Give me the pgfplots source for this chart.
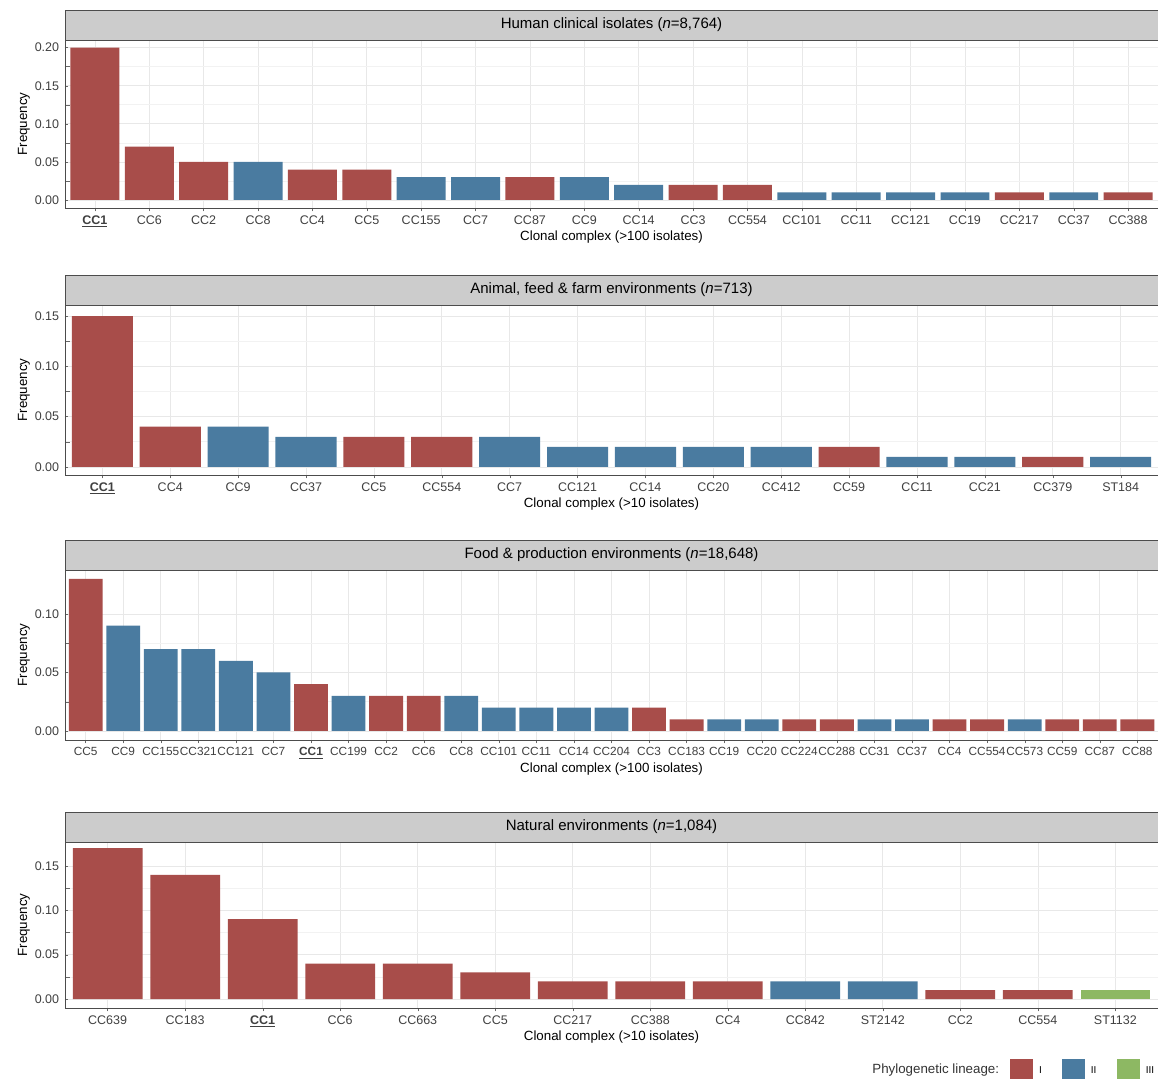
\documentclass[border=0pt]{standalone}
\usepackage{pgfplots}
\pgfplotsset{compat=1.18}
\usepackage{fontspec}
\setmainfont{Liberation Sans}
\definecolor{cI}{RGB}{168,77,74}
\definecolor{cII}{RGB}{74,123,160}
\definecolor{cIII}{RGB}{141,184,99}
\definecolor{stripc}{RGB}{204,204,204}
\pgfplotsset{panel/.style={
  scale only axis, anchor=south west, width=655.8pt,
  ybar, bar shift=0pt, bar width=0.9,
  axis line style={black!70}, axis background/.style={fill=white},
  tick style={black!60}, major tick length=2pt,
  ytick pos=left, xtick pos=bottom,
  ymajorgrids, xmajorgrids, yminorgrids, minor y tick num=1,
  major grid style={black!9}, minor grid style={black!5},
  every tick label/.append style={font=\fontsize{7.5}{9}\selectfont, text=black!75},
  /pgf/number format/assume math mode=true,
  yticklabel style={/pgf/number format/.cd,fixed,fixed zerofill,precision=2},
  ylabel={Frequency}, ylabel style={font=\fontsize{8}{9}\selectfont, yshift=-4pt},
  xlabel style={font=\fontsize{8}{9}\selectfont, yshift=5pt},
  xticklabel style={yshift=1pt},
  every axis plot/.append style={draw=none},
}}
\newcommand{\strip}[2]{\draw[black!70,fill=stripc] (#1.north west) rectangle ([yshift=18pt]#1.north east);
  \node[font=\fontsize{9}{10}\selectfont] at ([yshift=9pt]#1.north) {#2};}
\begin{document}
\begin{tikzpicture}
\useasboundingbox (0,0) rectangle (694.8pt,647.4pt);
% Panel 1
\begin{axis}[panel, name=a1, at={(39pt,522.6pt)}, height=100.8pt,
  xmin=-0.55, xmax=19.55, ymin=-0.0105, ymax=0.21, ytick={0,0.05,0.1,0.15,0.2},
  xtick={0,...,19},
  xticklabels={{\textbf{\underline{CC1}}},CC6,CC2,CC8,CC4,CC5,CC155,CC7,CC87,CC9,CC14,CC3,CC554,CC101,CC11,CC121,CC19,CC217,CC37,CC388},
  xlabel={Clonal complex (>100 isolates)}]
\addplot[fill=cI] coordinates {(0,0.20)(1,0.07)(2,0.05)(4,0.04)(5,0.04)(8,0.03)(11,0.02)(12,0.02)(17,0.01)(19,0.01)};
\addplot[fill=cII] coordinates {(3,0.05)(6,0.03)(7,0.03)(9,0.03)(10,0.02)(13,0.01)(14,0.01)(15,0.01)(16,0.01)(18,0.01)};
\end{axis}
\strip{a1}{Human clinical isolates (\textit{n}=8,764)}
% Panel 2
\begin{axis}[panel, name=a2, at={(39pt,362.4pt)}, height=102pt,
  xmin=-0.55, xmax=15.55, ymin=-0.008, ymax=0.161, ytick={0,0.05,0.1,0.15},
  xtick={0,...,15},
  xticklabels={{\textbf{\underline{CC1}}},CC4,CC9,CC37,CC5,CC554,CC7,CC121,CC14,CC20,CC412,CC59,CC11,CC21,CC379,ST184},
  xlabel={Clonal complex (>10 isolates)}]
\addplot[fill=cI] coordinates {(0,0.15)(1,0.04)(4,0.03)(5,0.03)(11,0.02)(14,0.01)};
\addplot[fill=cII] coordinates {(2,0.04)(3,0.03)(6,0.03)(7,0.02)(8,0.02)(9,0.02)(10,0.02)(12,0.01)(13,0.01)(15,0.01)};
\end{axis}
\strip{a2}{Animal, feed \& farm environments (\textit{n}=713)}
% Panel 3
\begin{axis}[panel, name=a3, at={(39pt,203.4pt)}, height=102pt,
  xmin=-0.55, xmax=28.55, ymin=-0.0077, ymax=0.1376, ytick={0,0.05,0.1},
  xtick={0,...,28},
  xticklabels={CC5,CC9,CC155,CC321,CC121,CC7,{\textbf{\underline{CC1}}},CC199,CC2,CC6,CC8,CC101,CC11,CC14,CC204,CC3,CC183,CC19,CC20,CC224,CC288,CC31,CC37,CC4,CC554,CC573,CC59,CC87,CC88},
  xticklabel style={font=\fontsize{7.1}{9}\selectfont},
  xlabel={Clonal complex (>100 isolates)}]
\addplot[fill=cI] coordinates {(0,0.13)(6,0.04)(8,0.03)(9,0.03)(15,0.02)(16,0.01)(19,0.01)(20,0.01)(23,0.01)(24,0.01)(26,0.01)(27,0.01)(28,0.01)};
\addplot[fill=cII] coordinates {(1,0.09)(2,0.07)(3,0.07)(4,0.06)(5,0.05)(7,0.03)(10,0.03)(11,0.02)(12,0.02)(13,0.02)(14,0.02)(17,0.01)(18,0.01)(21,0.01)(22,0.01)(25,0.01)};
\end{axis}
\strip{a3}{Food \& production environments (\textit{n}=18,648)}
% Panel 4
\begin{axis}[panel, name=a4, at={(39pt,42.6pt)}, height=99.6pt,
  xmin=-0.55, xmax=13.55, ymin=-0.0101, ymax=0.177, ytick={0,0.05,0.1,0.15},
  xtick={0,...,13},
  xticklabels={CC639,CC183,{\textbf{\underline{CC1}}},CC6,CC663,CC5,CC217,CC388,CC4,CC842,ST2142,CC2,CC554,ST1132},
  xlabel={Clonal complex (>10 isolates)}]
\addplot[fill=cI] coordinates {(0,0.17)(1,0.14)(2,0.09)(3,0.04)(4,0.04)(5,0.03)(6,0.02)(7,0.02)(8,0.02)(11,0.01)(12,0.01)};
\addplot[fill=cII] coordinates {(9,0.02)(10,0.02)};
\addplot[fill=cIII] coordinates {(13,0.01)};
\end{axis}
\strip{a4}{Natural environments (\textit{n}=1,084)}
% legend
\node[font=\fontsize{8}{9}\selectfont, text=black!80, anchor=east] at (603pt,5.4pt) {Phylogenetic lineage:};
\fill[cI] (606pt,0pt) rectangle (620pt,12pt);
\node[font=\fontsize{6}{7}\selectfont, anchor=west] at (620pt,5.4pt) {I};
\fill[cII] (637pt,0pt) rectangle (651pt,12pt);
\node[font=\fontsize{6}{7}\selectfont, anchor=west] at (651pt,5.4pt) {II};
\fill[cIII] (670pt,0pt) rectangle (684pt,12pt);
\node[font=\fontsize{6}{7}\selectfont, anchor=west] at (684pt,5.4pt) {III};
\end{tikzpicture}
\end{document}
